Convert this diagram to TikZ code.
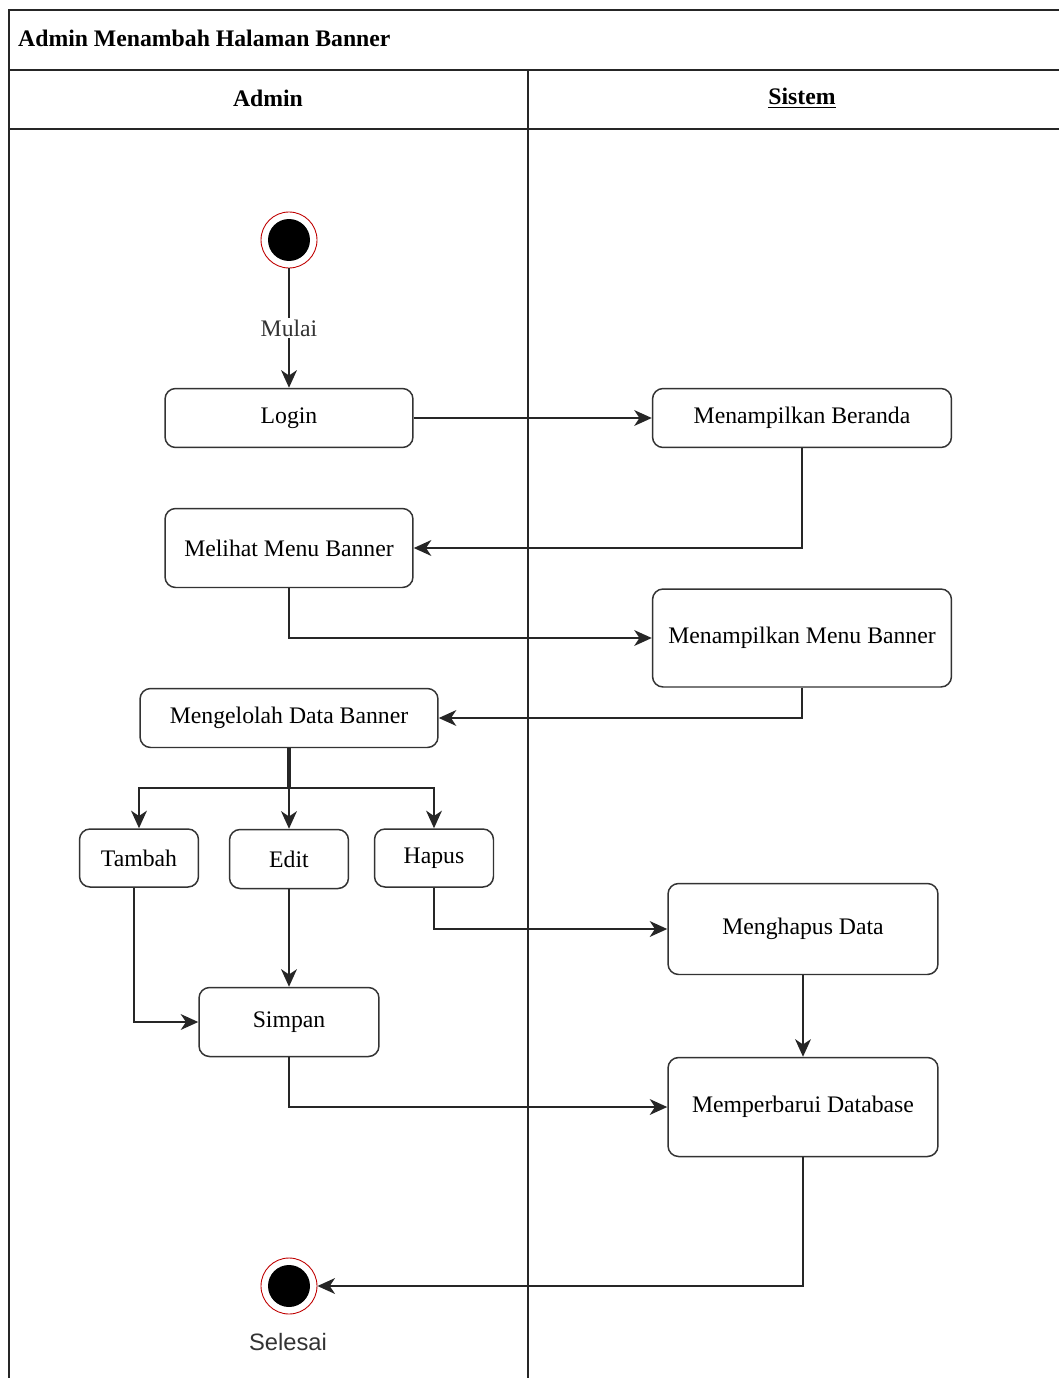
\documentclass[tikz,border=0pt]{standalone}
\usepackage{fontspec}
\setmainfont{Liberation Serif}
\newfontfamily\sansfont{Liberation Sans}
\usetikzlibrary{arrows.meta}

\begin{document}
\begin{tikzpicture}[x=0.02cm,y=-0.02cm,
	teks/.style={font=\fontsize{13.5}{16}\selectfont},
	aksi/.style={teks, draw=black!80, line width=0.85pt, rounded corners=6pt, fill=white, align=center, inner sep=0pt},
	alur/.style={draw=black!85, line width=1.1pt, -{Stealth[length=10pt,width=9pt,inset=3pt]}},
	titik/.style={circle, draw=red!75!black, line width=0.5pt, minimum size=1.12cm, inner sep=0pt,
		path picture={\fill[black] (path picture bounding box.center) circle (0.42cm);}}]
	\useasboundingbox (0,0) rectangle (1059,1378);

	% kolam dan judul
	\draw[line width=0.9pt, black!85] (9,1378) -- (9,10) -- (1059,10);
	\draw[line width=0.9pt, black!85] (9,70) -- (1059,70);
	\draw[line width=0.9pt, black!85] (9,129) -- (1059,129);
	\draw[line width=0.9pt, black!85] (528,70) -- (528,1378);
	\node[teks, anchor=west] (judul) at (12,38) {\textbf{Admin Menambah Halaman Banner}};
	\node[teks] (admin) at (268,98) {\textbf{Admin}};
	\node[teks] (sistem) at (802,98) {\textbf{\underline{Sistem}}};

	% mulai
	\node[titik] (mulai) at (289,240) {};

	% aktivitas admin
	\node[aksi, minimum width=4.96cm, minimum height=1.18cm] (login) at (289,418) {Login};
	\node[aksi, minimum width=4.96cm, minimum height=1.58cm] (melihat) at (289,548) {Melihat Menu Banner};
	\node[aksi, minimum width=5.96cm, minimum height=1.18cm] (kelola) at (289,718) {Mengelolah Data Banner};
	\node[aksi, minimum width=2.38cm, minimum height=1.16cm] (tambah) at (139,858) {Tambah};
	\node[aksi, minimum width=2.38cm, minimum height=1.18cm] (edit) at (289,859) {Edit};
	\node[aksi, minimum width=2.38cm, minimum height=1.16cm] (hapus) at (434,858) {Hapus};
	\node[aksi, minimum width=3.6cm, minimum height=1.38cm] (simpan) at (289,1022) {Simpan};

	% aktivitas sistem
	\node[aksi, minimum width=5.98cm, minimum height=1.18cm] (beranda) at (802,418) {Menampilkan Beranda};
	\node[aksi, minimum width=5.98cm, minimum height=1.96cm] (menu) at (802,638) {Menampilkan Menu Banner};
	\node[aksi, minimum width=5.4cm, minimum height=1.82cm] (menghapus) at (803,929) {Menghapus Data};
	\node[aksi, minimum width=5.4cm, minimum height=1.98cm] (database) at (803,1107) {Memperbarui Database};

	% selesai
	\node[titik] (selesai) at (289,1286) {};
	\node[font=\sansfont\fontsize{13.5}{16}\selectfont, text=black!80] (lblselesai) at (288,1342) {Selesai};

	% alur
	\coordinate (cabang) at (289,788);
	\draw[alur] (mulai) -- (login) node[midway, fill=white, teks, text=black!80, inner sep=1pt] {Mulai};
	\draw[alur] (login) -- (beranda);
	\draw[alur] (beranda.south) |- (melihat.east);
	\draw[alur] (melihat.south) |- (menu.west);
	\draw[alur] (menu.south) |- (kelola.east);
	\draw[draw=black!85, line width=1.8pt] (kelola.south) -- (cabang);
	\draw[alur] (cabang) -| (tambah.north);
	\draw[alur] (cabang) -- (edit.north);
	\draw[alur] (cabang) -| (hapus.north);
	\draw[alur] ([xshift=-0.1cm]tambah.south) |- (simpan.west);
	\draw[alur] (edit.south) -- (simpan.north);
	\draw[alur] (hapus.south) |- (menghapus.west);
	\draw[alur] (menghapus.south) -- (database.north);
	\draw[alur] (simpan.south) |- (database.west);
	\draw[alur] (database.south) |- (selesai.east);
\end{tikzpicture}
\end{document}
